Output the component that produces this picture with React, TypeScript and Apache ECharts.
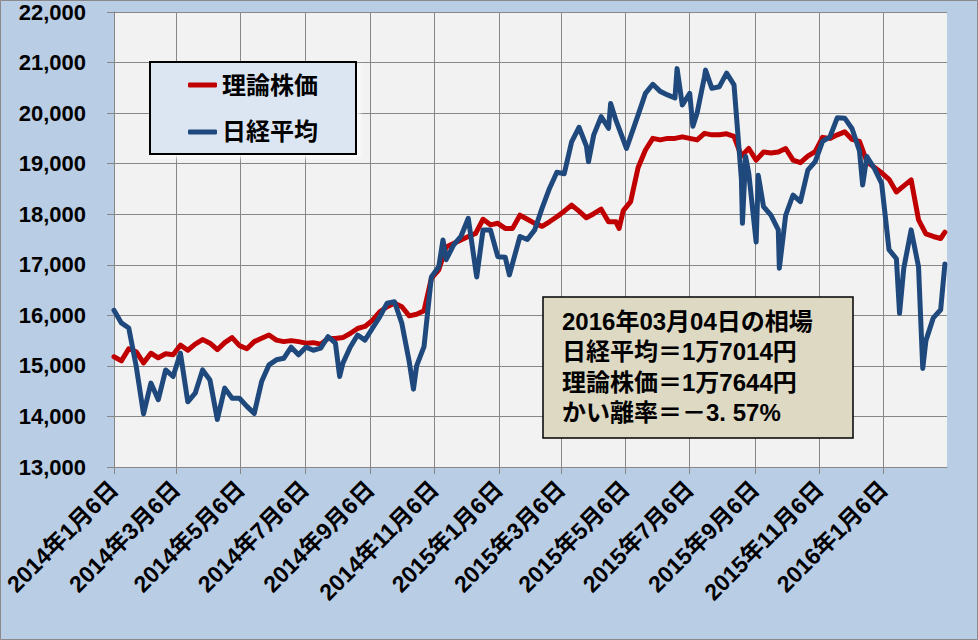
import React, { useEffect, useRef } from "react";
import * as echarts from "echarts";

// ---------- data ----------
const AXIS_START = "2014-01-06";
const AXIS_END = "2016-03-06";
const WEEK_STEP_DAYS = 7; // weekly samples starting at AXIS_START

const seriesNames = ["理論株価", "日経平均"];

// 理論株価 (weekly, from 2014-01-06)
const theoryWeekly = [
  15180, 15100, 15340, 15280, 15060, 15250, 15160, 15240, 15220, 15410,
  15310, 15430, 15520, 15450, 15320, 15460, 15560, 15400, 15340, 15480,
  15545, 15610, 15510, 15480, 15500, 15480, 15450, 15460, 15430, 15540,
  15540, 15560, 15640, 15740, 15780, 15900, 16070, 16170, 16240, 16170,
  15990, 16020, 16090, 16730, 16900, 17350, 17420, 17490, 17560, 17620,
  17900, 17790, 17820, 17720, 17720, 17980, 17900, 17820, 17760, 17850,
  17950, 18060, 18180, 18060, 17930, 18010, 18100, 17850, 17850, 18070,
  18250, 18920, 19270, 19500, 19470, 19500, 19500, 19530, 19500, 19470,
  19600, 19570, 19570, 19590, 19540, 19150, 19300, 19070, 19230, 19210,
  19230, 19300, 19070, 19020, 19150, 19240, 19520, 19500, 19570, 19630,
  19480, 19440, 19040, 18930, 18820, 18690, 18440, 18560, 18680, 17890,
  17610, 17560, 17520,
];
const theoryExtra: [string, number][] = [
  ["2015-04-30", 17720],
  ["2016-03-04", 17644],
];

// 日経平均 (weekly, from 2014-01-06)
const nikkeiWeekly = [
  16100, 15850, 15750, 15000, 14050, 14660, 14330, 14920, 14790, 15250,
  14290, 14460, 14920, 14720, 13940, 14560, 14360, 14360, 14200, 14060,
  14690, 15020, 15120, 15150, 15370, 15220, 15370, 15310, 15350, 15580,
  15450, 15050, 15370, 15610, 15510, 15740, 15970, 16240, 16270, 15840,
  15080, 15000, 15380, 16760, 16960, 17100, 17390, 17560, 17920, 16900,
  17690, 17690, 17160, 17150, 17030, 17560, 17500, 17690, 18120, 18510,
  18830, 18800, 19430, 19720, 19350, 19570, 19930, 19700, 19860, 19470,
  19540, 19960, 20390, 20570, 20430, 20360, 20300, 20160, 20390, 20000,
  20720, 20490, 20520, 20790, 20560, 18700, 18810, 17450, 18150, 17980,
  17690, 17980, 18380, 18250, 18870, 19040, 19440, 19530, 19910, 19900,
  19690, 19250, 19140, 18910, 18610, 17300, 17120, 16930, 17690, 16960,
  15500, 15950, 16110,
];
const nikkeiExtra: [string, number][] = [
  ["2014-08-08", 14790],
  ["2014-10-17", 14540],
  ["2014-11-14", 17490],
  ["2014-12-16", 16760],
  ["2015-01-16", 16800],
  ["2015-04-01", 19040],
  ["2015-04-22", 20190],
  ["2015-05-07", 19300],
  ["2015-06-24", 20880],
  ["2015-07-09", 19740],
  ["2015-07-21", 20850],
  ["2015-08-25", 17820],
  ["2015-08-28", 19140],
  ["2015-09-09", 18770],
  ["2015-09-29", 16930],
  ["2015-12-17", 18580],
  ["2016-01-21", 16040],
  ["2016-02-12", 14950],
  ["2016-03-04", 17014],
];

const yMin = 13000;
const yMax = 22000;
const yInterval = 1000;

const noteLines = [
  "2016年03月04日の相場",
  "日経平均＝1万7014円",
  "理論株価＝1万7644円",
  "かい離率＝－3. 57%",
];

// ---------- helpers ----------
const DAY = 86400000;
const parseIso = (s: string) => {
  const [y, m, d] = s.split("-").map(Number);
  return Date.UTC(y, m - 1, d);
};
const startMs = parseIso(AXIS_START);
const dayIndex = (s: string) => Math.round((parseIso(s) - startMs) / DAY);
const isoOf = (i: number) => new Date(startMs + i * DAY).toISOString().slice(0, 10);

const nDays = dayIndex(AXIS_END) + 1;
const categories = Array.from({ length: nDays }, (_, i) => isoOf(i));

const buildData = (weekly: number[], extra: [string, number][]) => {
  const pts: [number, number][] = weekly.map((v, k) => [k * WEEK_STEP_DAYS, v]);
  extra.forEach(([d, v]) => pts.push([dayIndex(d), v]));
  pts.sort((a, b) => a[0] - b[0]);
  return pts;
};

const isMajor = (_index: number, value: string) => {
  if (value === AXIS_END) return false;
  const [, m, d] = value.split("-").map(Number);
  return d === 6 && m % 2 === 1;
};

const FONT = '"Liberation Sans", "Noto Sans CJK JP", sans-serif';
const GRID_COLOR = "#878787";

export default function App() {
  const ref = useRef<HTMLDivElement>(null);
  useEffect(() => {
    if (!ref.current) return;
    const chart = echarts.init(ref.current, undefined, { renderer: "svg" });
    chart.setOption({
      animation: false,
      backgroundColor: "#B9CDE5",
      grid: {
        left: 114,
        right: 31,
        top: 12,
        bottom: 173,
        containLabel: false,
        outerBoundsMode: "none",
        show: true,
        backgroundColor: "#F2F2F2",
        borderWidth: 0,
      },
      legend: {
        left: 150,
        top: 62,
        orient: "vertical",
        backgroundColor: "#DCE6F2",
        borderColor: "#000",
        borderWidth: 2,
        padding: [11, 38, 10, 38],
        itemGap: 23,
        itemWidth: 29,
        itemHeight: 5,
        icon: "roundRect",
        textStyle: { fontSize: 24, fontWeight: "bold", color: "#000", fontFamily: FONT },
        data: seriesNames,
        shadowColor: "rgba(255,255,255,0.9)",
        shadowBlur: 4,
        shadowOffsetX: 3,
        shadowOffsetY: 3,
      },
      xAxis: {
        type: "category",
        data: categories,
        boundaryGap: false,
        axisLine: { show: true, lineStyle: { color: GRID_COLOR, width: 1 } },
        axisTick: { show: true, length: 7, interval: isMajor, lineStyle: { color: GRID_COLOR } },
        splitLine: { show: true, interval: isMajor, lineStyle: { color: GRID_COLOR, width: 1 } },
        axisLabel: {
          interval: isMajor,
          rotate: 45,
          margin: 18,
          color: "#000",
          fontSize: 23,
          fontWeight: "bold",
          fontFamily: FONT,
          formatter: (v: string) => {
            const [y, m, d] = v.split("-").map(Number);
            return `${y}年${m}月${d}日`;
          },
        },
      },
      yAxis: {
        type: "value",
        min: yMin,
        max: yMax,
        interval: yInterval,
        axisLine: { show: true, lineStyle: { color: GRID_COLOR, width: 1 } },
        axisTick: { show: true, length: 7, lineStyle: { color: GRID_COLOR } },
        splitLine: { show: true, lineStyle: { color: GRID_COLOR, width: 1 } },
        axisLabel: {
          margin: 28,
          color: "#000",
          fontSize: 22,
          fontWeight: "bold",
          fontFamily: FONT,
          formatter: (v: number) => v.toLocaleString("en-US"),
        },
      },
      series: [
        {
          name: seriesNames[0],
          type: "line",
          data: buildData(theoryWeekly, theoryExtra),
          showSymbol: false,
          symbol: "none",
          color: "#C00000",
          lineStyle: { color: "#C00000", width: 5, cap: "round", join: "round" },
          z: 2,
        },
        {
          name: seriesNames[1],
          type: "line",
          data: buildData(nikkeiWeekly, nikkeiExtra),
          showSymbol: false,
          symbol: "none",
          color: "#1F497D",
          lineStyle: { color: "#1F497D", width: 5, cap: "round", join: "round" },
          z: 3,
        },
      ],
      graphic: [
        {
          type: "rect",
          z: 50,
          shape: { x: 543, y: 297, width: 310, height: 141 },
          style: { fill: "#DDD9C3", stroke: "#000", lineWidth: 1.5 },
        },
        {
          type: "text",
          z: 51,
          x: 562,
          y: 306,
          style: {
            text: noteLines.join("\n"),
            fontSize: 24,
            fontWeight: "bold",
            fontFamily: FONT,
            lineHeight: 30.5,
            fill: "#000",
          },
        },
        {
          type: "rect",
          z: 60,
          silent: true,
          shape: { x: 0.5, y: 0.5, width: 977, height: 639 },
          style: { fill: "none", stroke: "#8A8A8A", lineWidth: 1 },
        },
      ],
    });
    return () => chart.dispose();
  }, []);
  return (
    <div
      ref={ref}
      style={{ position: "absolute", left: 0, top: 0, width: 978, height: 640 }}
    />
  );
}
